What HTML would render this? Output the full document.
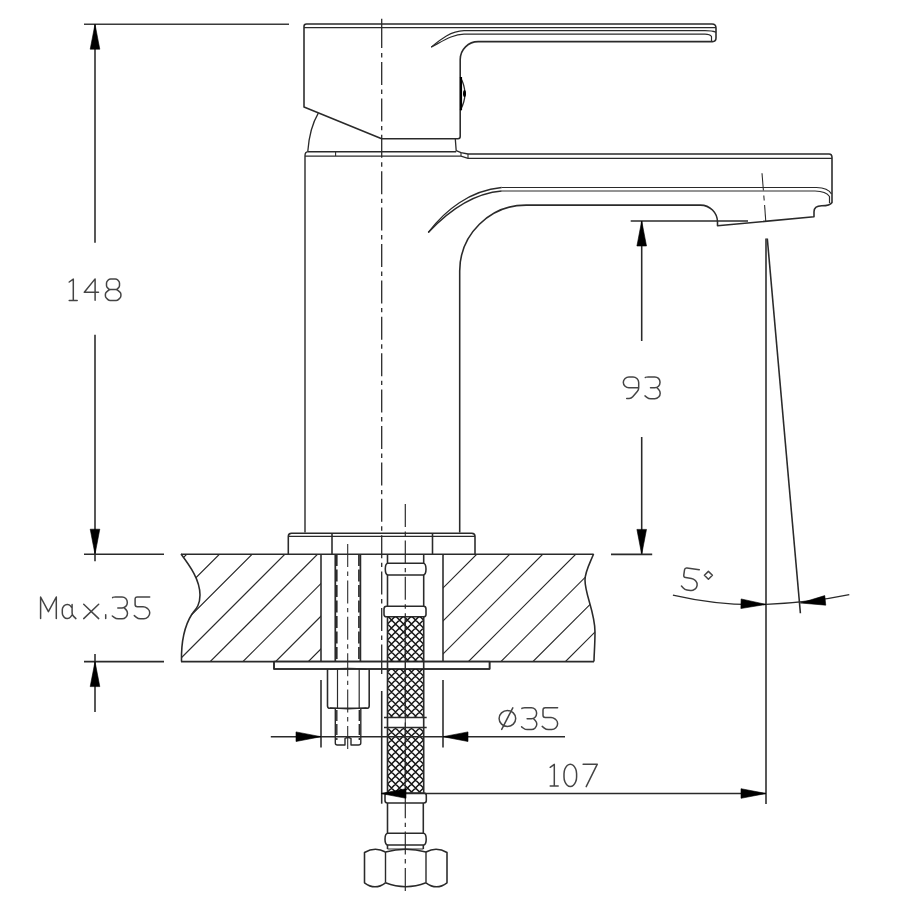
<!DOCTYPE html>
<html><head><meta charset="utf-8"><title>Faucet drawing</title><style>html,body{margin:0;padding:0;background:#fff;width:900px;height:900px;overflow:hidden;}svg{display:block;font-family:"Liberation Sans",sans-serif;}</style></head><body>
<svg width="900" height="900" viewBox="0 0 900 900">
<defs>
<clipPath id="cL"><path d="M181,554 C190,566 200,580 200,595 C200,606 195,610 192,614 C185,625 181,640 181.5,661.5 L321,661.5 L321,554 Z"/></clipPath>
<clipPath id="cR"><path d="M443,554 L593.6,554 C589,565 585,572 585,580 C585,595 595,612 595,632 C595,645 594,655 594,661.5 L443,661.5 Z"/></clipPath>
<clipPath id="cM"><rect x="387.5" y="616.8" width="36.2" height="44.8"/><rect x="387.5" y="669" width="36.2" height="48.5"/><rect x="387.5" y="727.5" width="36.2" height="65.3"/></clipPath>
</defs>
<g>
<rect width="900" height="900" fill="#fff"/>
<g fill="none" stroke="#2a2a2a" stroke-width="1.566" stroke-linecap="butt" stroke-linejoin="round">
<line x1="84" y1="24.2" x2="289" y2="24.2" stroke-width="1.51" stroke="#3a3a3a" />
<line x1="95" y1="24.2" x2="95" y2="242.7" />
<line x1="95" y1="334.7" x2="95" y2="561.3" />
<polygon points="95.00,24.20 90.20,49.20 99.80,49.20" fill="#000" stroke="#000" stroke-width="0.6"/>
<polygon points="95.00,554.20 90.20,529.20 99.80,529.20" fill="#000" stroke="#000" stroke-width="0.6"/>
<line x1="84" y1="554.2" x2="164" y2="554.2" />
<line x1="84" y1="661.6" x2="164" y2="661.6" />
<line x1="95" y1="654" x2="95" y2="712" />
<polygon points="95.00,661.60 90.20,686.60 99.80,686.60" fill="#000" stroke="#000" stroke-width="0.6"/>
<path d="M304,107 L304,26.5 Q304,24 306.5,24 L712,24 Q716,24 716,28 L716,38 Q716,41.6 712.5,41.6 L478.3,41.6 A18,18 0 0 0 460.2,59.6 L460.2,136.5 Q460.2,138.7 458,138.7 L381.7,138.7 Z" fill="none" />
<line x1="304" y1="27.6" x2="716" y2="27.6" stroke-width="1.19" />
<path d="M431.2,47.1 C441,39 451,31 464,30.7 L705,30.7 Q712,30.7 716,32.2" fill="none" stroke-width="1.19" />
<path d="M431.2,47.1 C443,41 453,34.2 464,34.1 L705,34.1 Q710,34.2 711.5,36.5 L711.5,41.6" fill="none" stroke-width="1.19" />
<path d="M460.3,77 Q469.5,93.6 460.3,110.3" fill="none" stroke-width="1.30" />
<line x1="461" y1="77" x2="461" y2="110.3" stroke-width="2.16" stroke="#000" />
<ellipse cx="464.5" cy="93.5" rx="1.5" ry="3.6" fill="#000" stroke="none"/>
<path d="M318.3,113.1 Q309.5,128 307.8,151.3" fill="none" stroke-width="1.30" />
<path d="M455.3,138.9 L456.2,150.6 L461,152.6 L468,154" fill="none" stroke-width="1.30" />
<path d="M305,532.5 L305,155.8 Q305,151.8 308,151.6 L456.2,151.8" fill="none" stroke-width="1.40" />
<line x1="305" y1="156.1" x2="461" y2="156.1" stroke-width="1.30" />
<line x1="461" y1="156.1" x2="468" y2="158.4" stroke-width="1.30" />
<line x1="335.6" y1="151.6" x2="335.6" y2="156.1" stroke-width="1.08" />
<line x1="461" y1="152.6" x2="461" y2="156.1" stroke-width="1.08" />
<line x1="468" y1="154" x2="468" y2="158.4" stroke-width="1.08" />
<path d="M468,154 L829,154 Q832,154 832,157.5 L832,202.5 Q830,205.8 821.7,205.8 Q814,206 814,211.7 L814,216.7 L717.5,225.8 L717.5,222 A17,17 0 0 0 700.5,205.1 L526.7,205.1 A66.5,66 0 0 0 459.7,271 L459.7,532.5" fill="none" />
<line x1="468" y1="158.4" x2="832" y2="158.4" stroke-width="1.30" />
<path d="M501.7,187.5 L816.5,187.5 Q828,187.7 831.5,194" fill="none" stroke-width="1.19" />
<path d="M501.7,191 L815,191 Q826,191.2 829.5,196.5 L829.5,203" fill="none" stroke-width="1.19" />
<path d="M428.3,232.5 C445,210 470,190.5 501.7,187.5" fill="none" stroke-width="1.30" />
<path d="M428.3,232.5 C447,212.5 472,193.5 501.7,191" fill="none" stroke-width="1.30" />
<path d="M288.3,554 L288.3,536.5 Q288.3,533.2 291.5,533.2 L471.8,533.2 Q475,533.2 475,536.5 L475,554" fill="none" />
<line x1="288.3" y1="536.4" x2="475" y2="536.4" stroke-width="1.19" />
<line x1="332" y1="533.2" x2="332" y2="554" />
<line x1="432.5" y1="533.2" x2="432.5" y2="554" />
<line x1="181" y1="554.2" x2="593.6" y2="554.2" />
<line x1="181" y1="661.6" x2="594" y2="661.6" />
<path d="M181,554 C190,566 200,580 200,595 C200,606 195,610 192,614 C185,625 181,640 181.5,661.5" fill="none" />
<path d="M593.6,554 C589,565 585,572 585,580 C585,595 595,612 595,632 C595,645 594,655 594,661.5" fill="none" />
<line x1="321" y1="554" x2="321" y2="661.6" />
<line x1="443" y1="554" x2="443" y2="661.6" />
<path clip-path="url(#cL)" d="M41,700 L241,500 M73.70000000000005,700 L273.70000000000005,500 M106.39999999999998,700 L306.4,500 M139.10000000000002,700 L339.1,500 M171.79999999999995,700 L371.79999999999995,500 M204.5,700 L404.5,500 M237.20000000000005,700 L437.20000000000005,500 M269.9,700 L469.9,500" stroke-width="1.2"/>
<path clip-path="url(#cR)" d="M298,700 L498,500 M331,700 L531,500 M364,700 L564,500 M397,700 L597,500 M430,700 L630,500 M462.5,700 L662.5,500 M494.5,700 L694.5,500 M527,700 L727,500 M559.5,700 L759.5,500" stroke-width="1.2"/>
<rect x="274" y="661.6" width="215.6" height="7.4" fill="#fff"/>
<path d="M274,661.6 L274,669 L489.6,669 L489.6,661.6" fill="none" />
<line x1="335.3" y1="554" x2="335.3" y2="661.6" stroke-width="1.73" />
<line x1="360.4" y1="554" x2="360.4" y2="661.6" stroke-width="1.73" />
<line x1="336.8" y1="554" x2="336.8" y2="661" stroke-width="1.62" stroke-dasharray="12 3.5"/>
<line x1="358.9" y1="554" x2="358.9" y2="661" stroke-width="1.62" stroke-dasharray="12 3.5"/>
<path d="M327.5,669 L327.5,706 Q327.5,708.3 330,708.3 L366.7,708.3 Q369.2,708.3 369.2,706 L369.2,669" fill="none" />
<line x1="337.5" y1="669" x2="337.5" y2="708.3" stroke-width="1.19" />
<line x1="359.2" y1="669" x2="359.2" y2="708.3" stroke-width="1.19" />
<path d="M330,669.5 Q348,667 366.7,669.5" fill="none" stroke-width="1.08" />
<path d="M330,707.8 Q348,710 366.7,707.8" fill="none" stroke-width="1.08" />
<path d="M335.3,708.3 L335.3,743 Q335.3,745 337.3,745 L345,745 L345,738.5 Q348,736.5 351,738.5 L351,745 L358.4,745 Q360.8,745 360.8,743 L360.8,708.3" fill="none" stroke-width="1.40" />
<line x1="336.8" y1="710" x2="336.8" y2="740" stroke-width="1.40" stroke-dasharray="11 3"/>
<line x1="359.3" y1="710" x2="359.3" y2="740" stroke-width="1.40" stroke-dasharray="11 3"/>
<path d="M387.5,554 L387.5,563.2 M423.7,554 L423.7,563.2" fill="none" />
<path d="M388,563.2 L423.2,563.2 Q426,563.2 426,569.1 Q426,575 423.2,575 L388,575 Q385.3,575 385.3,569.1 Q385.3,563.2 388,563.2 Z" fill="none" />
<path d="M387.5,575 L387.5,606.3 M423.7,575 L423.7,606.3" fill="none" />
<path d="M386.5,606.3 L423.5,606.3 Q426,606.3 426,609 L426,614.5 Q426,616.8 423.5,616.8 L386.5,616.8 Q384,616.8 384,614.5 L384,609 Q384,606.3 386.5,606.3 Z" fill="none" />
<path clip-path="url(#cM)" d="M395.5,600 L175.5,820 M403.5,600 L183.5,820 M411.5,600 L191.5,820 M419.5,600 L199.5,820 M427.5,600 L207.5,820 M435.5,600 L215.5,820 M443.5,600 L223.5,820 M451.5,600 L231.5,820 M459.5,600 L239.5,820 M467.5,600 L247.5,820 M475.5,600 L255.5,820 M483.5,600 L263.5,820 M491.5,600 L271.5,820 M499.5,600 L279.5,820 M507.5,600 L287.5,820 M515.5,600 L295.5,820 M523.5,600 L303.5,820 M531.5,600 L311.5,820 M539.5,600 L319.5,820 M547.5,600 L327.5,820 M555.5,600 L335.5,820 M563.5,600 L343.5,820 M571.5,600 L351.5,820 M579.5,600 L359.5,820 M587.5,600 L367.5,820 M595.5,600 L375.5,820 M603.5,600 L383.5,820 M611.5,600 L391.5,820 M619.5,600 L399.5,820 M627.5,600 L407.5,820 M179.5,600 L399.5,820 M187.5,600 L407.5,820 M195.5,600 L415.5,820 M203.5,600 L423.5,820 M211.5,600 L431.5,820 M219.5,600 L439.5,820 M227.5,600 L447.5,820 M235.5,600 L455.5,820 M243.5,600 L463.5,820 M251.5,600 L471.5,820 M259.5,600 L479.5,820 M267.5,600 L487.5,820 M275.5,600 L495.5,820 M283.5,600 L503.5,820 M291.5,600 L511.5,820 M299.5,600 L519.5,820 M307.5,600 L527.5,820 M315.5,600 L535.5,820 M323.5,600 L543.5,820 M331.5,600 L551.5,820 M339.5,600 L559.5,820 M347.5,600 L567.5,820 M355.5,600 L575.5,820 M363.5,600 L583.5,820 M371.5,600 L591.5,820 M379.5,600 L599.5,820 M387.5,600 L607.5,820 M395.5,600 L615.5,820 M403.5,600 L623.5,820 M411.5,600 L631.5,820 M419.5,600 L639.5,820" stroke="#151515" stroke-width="1.5"/>
<line x1="405.3" y1="616.8" x2="405.3" y2="792.8" stroke-width="0.97" />
<line x1="387.5" y1="616.8" x2="387.5" y2="792.8" stroke-width="1.62" />
<line x1="423.7" y1="616.8" x2="423.7" y2="792.8" stroke-width="1.62" />
<line x1="384" y1="717.5" x2="426.7" y2="717.5" stroke-width="1.30" />
<line x1="384" y1="727.5" x2="426.7" y2="727.5" stroke-width="1.30" />
<path d="M387.5,793 L423.8,793 Q426.3,793 426.3,795.5 L426.3,800.5 Q426.3,803 423.8,803 L387.5,803 Q385,803 385,800.5 L385,795.5 Q385,793 387.5,793 Z" fill="none" />
<path d="M387.5,803 L387.5,833.3 M423.3,803 L423.3,833.3" fill="none" />
<path d="M388,833.3 L423.3,833.3 Q426.2,833.3 426.2,839.2 Q426.2,845 423.3,845 L388,845 Q385,845 385,839.2 Q385,833.3 388,833.3 Z" fill="none" />
<path d="M387.5,845 L387.5,849 M423.3,845 L423.3,849" fill="none" />
<line x1="387.5" y1="849" x2="423.3" y2="849" stroke-width="1.19" />
<path d="M385.5,852 Q375,846.4 364.5,852.5 L364.5,882.8 Q375,890.8 385.5,882.8" fill="none" />
<path d="M426,852 Q436.5,846.4 447,852.5 L447,882.8 Q436.5,890.8 426,882.8" fill="none" />
<path d="M385.5,852 Q405.75,846.6 426,852 M385.5,882.8 Q405.75,890.6 426,882.8" fill="none" />
<line x1="385.5" y1="852" x2="385.5" y2="882.8" stroke-width="1.40" />
<line x1="426" y1="852" x2="426" y2="882.8" stroke-width="1.40" />
<line x1="381.7" y1="18.7" x2="381.7" y2="48" stroke-width="1.30" />
<line x1="381.7" y1="674" x2="381.7" y2="644.5" stroke-width="1.30" />
<line x1="381.7" y1="52.4" x2="381.7" y2="644" stroke-width="1.30" stroke-dasharray="23 4.5 4.4 4.5" stroke-dashoffset="26.8"/>
<line x1="347.7" y1="544" x2="347.7" y2="751.7" stroke-width="1.08" stroke-dasharray="23 4.5 4.4 4.5"/>
<line x1="405.3" y1="504" x2="405.3" y2="891.7" stroke-width="1.19" stroke-dasharray="23 4.5 4.4 4.5"/>
<line x1="762" y1="173.3" x2="763.4" y2="190.5" stroke-width="1.08" />
<line x1="763.8" y1="195.5" x2="764.2" y2="200.5" stroke-width="1.08" />
<line x1="764.6" y1="205" x2="765.8" y2="221.7" stroke-width="1.08" />
<line x1="630.7" y1="221" x2="748" y2="221" stroke-width="1.46" />
<line x1="641.7" y1="221" x2="641.7" y2="341" />
<line x1="641.7" y1="437" x2="641.7" y2="554.4" />
<polygon points="641.70,221.00 636.90,246.00 646.50,246.00" fill="#000" stroke="#000" stroke-width="0.6"/>
<polygon points="641.70,554.40 636.90,529.40 646.50,529.40" fill="#000" stroke="#000" stroke-width="0.6"/>
<line x1="611" y1="554.4" x2="652.2" y2="554.4" />
<line x1="766" y1="238.5" x2="766" y2="803.9" />
<line x1="767.3" y1="238.5" x2="800.4" y2="613.3" />
<path d="M672.9,595.1 Q720,606 766,604.4 Q812,602.5 849.3,594.7" fill="none" stroke-width="1.30" />
<polygon points="766.00,604.40 740.88,608.54 741.13,598.95" fill="#000" stroke="#000" stroke-width="0.6"/>
<polygon points="800.40,603.00 824.76,595.61 825.76,605.16" fill="#000" stroke="#000" stroke-width="0.6"/>
<line x1="321" y1="680" x2="321" y2="747.5" />
<line x1="443" y1="680" x2="443" y2="747.5" />
<line x1="270.8" y1="736.7" x2="565" y2="736.7" />
<polygon points="321.00,736.70 296.00,731.90 296.00,741.50" fill="#000" stroke="#000" stroke-width="0.6"/>
<polygon points="443.00,736.70 468.00,731.90 468.00,741.50" fill="#000" stroke="#000" stroke-width="0.6"/>
<line x1="381.7" y1="691" x2="381.7" y2="803.7" />
<line x1="381" y1="793.5" x2="766" y2="793.5" />
<polygon points="381.00,793.50 406.00,788.70 406.00,798.30" fill="#000" stroke="#000" stroke-width="0.6"/>
<polygon points="766.00,793.50 741.00,788.70 741.00,798.30" fill="#000" stroke="#000" stroke-width="0.6"/>
</g>
<g fill="none" stroke="#444" stroke-width="1.5" stroke-linejoin="round" stroke-linecap="round"><path d="M0,3.1 L4.1,0.2 L4.1,21.7 M0,21.7 L8,21.7" transform="translate(69.2,278.9) scale(1.0,1.0)"/><path d="M10.8,21.4 L10.8,0 L0,13.4 L14.2,13.4" transform="translate(84.3,278.9) scale(1.0,1.0)"/><path d="M5.30,0.00 L9.90,0.00 Q11.20,0.00 12.10,0.93 L13.20,2.07 Q14.10,3.00 14.10,4.30 L14.10,6.50 Q14.10,7.80 13.18,8.72 L12.12,9.78 Q11.20,10.70 9.90,10.70 L5.30,10.70 Q4.00,10.70 3.08,9.78 L2.02,8.72 Q1.10,7.80 1.10,6.50 L1.10,4.30 Q1.10,3.00 2.00,2.07 L3.10,0.93 Q4.00,0.00 5.30,0.00 Z M5.30,10.70 L10.20,10.70 Q11.50,10.70 12.50,11.53 L14.50,13.17 Q15.50,14.00 15.50,15.30 L15.50,16.90 Q15.50,18.20 14.57,19.11 L12.93,20.69 Q12.00,21.60 10.70,21.60 L4.80,21.60 Q3.50,21.60 2.57,20.69 L0.93,19.11 Q0.00,18.20 0.00,16.90 L0.00,15.30 Q0.00,14.00 1.00,13.17 L3.00,11.53 Q4.00,10.70 5.30,10.70 Z" transform="translate(105.4,278.9) scale(1.0,1.0)"/></g>
<g fill="none" stroke="#444" stroke-width="1.5" stroke-linejoin="round" stroke-linecap="round"><path d="M15.40,10.90 L5.60,10.90 Q3.40,10.90 1.82,9.37 L1.58,9.13 Q0.00,7.60 0.00,5.45 L0.00,5.45 Q0.00,3.30 1.58,1.77 L1.82,1.53 Q3.40,0.00 5.60,0.00 L9.80,0.00 Q12.00,0.00 13.58,1.53 L13.82,1.77 Q15.40,3.30 15.40,5.50 L15.40,10.80 Q15.40,13.00 13.97,14.67 L9.43,19.93 Q8.00,21.60 5.80,21.60 L3.40,21.60" transform="translate(623.3,376.9) scale(1.0,1.0)"/><path d="M0.30,0.60 L0.65,0.30 Q1.00,0.00 3.20,0.00 L9.80,0.00 Q12.00,0.00 13.50,1.50 L13.50,1.50 Q15.00,3.00 15.00,5.20 L15.00,5.70 Q15.00,7.90 13.50,9.40 L13.50,9.40 Q12.00,10.90 9.80,10.90 L5.50,10.90 M12.00,10.90 L13.67,12.62 Q15.20,14.20 15.20,16.30 L15.20,16.30 Q15.20,18.40 13.69,20.00 L13.51,20.20 Q12.00,21.80 9.80,21.80 L5.80,21.80 Q3.60,21.80 1.86,20.45 L0.00,19.00" transform="translate(645,376.9) scale(1.0,1.0)"/></g>
<g fill="none" stroke="#444" stroke-width="1.5" stroke-linejoin="round" stroke-linecap="round"><path d="M0,21.6 L0,0 L7.8,14.7 L15.7,0 L15.7,21.6" transform="translate(40.6,597) scale(1.0,1.0)"/><path d="M9.80,10.90 L8.14,8.89 Q7.00,7.50 5.20,7.50 L4.80,7.50 Q3.00,7.50 1.81,8.85 L1.19,9.55 Q0.00,10.90 0.00,12.70 L0.00,16.10 Q0.00,17.90 1.13,19.30 L1.87,20.20 Q3.00,21.60 4.80,21.60 L5.20,21.60 Q7.00,21.60 8.09,20.16 L9.80,17.90 M9.80,7.50 L9.80,16.10 Q9.80,17.90 11.09,19.16 L13.60,21.60" transform="translate(62.3,597) scale(1.0,1.0)"/><path d="M0,7.3 L15,21.6 M0,21.6 L15,7.3" transform="translate(83.7,597) scale(1.0,1.0)"/><path d="M0.5,17.8 L0.5,21.6" transform="translate(105.2,597) scale(1.0,1.0)"/><path d="M0.30,0.60 L0.65,0.30 Q1.00,0.00 3.20,0.00 L9.80,0.00 Q12.00,0.00 13.50,1.50 L13.50,1.50 Q15.00,3.00 15.00,5.20 L15.00,5.70 Q15.00,7.90 13.50,9.40 L13.50,9.40 Q12.00,10.90 9.80,10.90 L5.50,10.90 M12.00,10.90 L13.67,12.62 Q15.20,14.20 15.20,16.30 L15.20,16.30 Q15.20,18.40 13.69,20.00 L13.51,20.20 Q12.00,21.80 9.80,21.80 L5.80,21.80 Q3.60,21.80 1.86,20.45 L0.00,19.00" transform="translate(112.3,597) scale(1.0,1.0)"/><path d="M15.40,0.00 L3.00,0.00 Q0.80,0.00 0.80,2.20 L0.80,7.50 Q0.80,9.70 3.00,9.70 L8.80,9.70 Q11.00,9.70 12.68,11.12 L13.72,11.98 Q15.40,13.40 15.40,15.60 L15.40,16.00 Q15.40,18.20 13.84,19.76 L13.36,20.24 Q11.80,21.80 9.60,21.80 L6.00,21.80 Q3.80,21.80 2.12,20.38 L0.00,18.60" transform="translate(134.3,597) scale(1.0,1.0)"/></g>
<g fill="none" stroke="#444" stroke-width="1.5" stroke-linejoin="round" stroke-linecap="round"><path d="M0.30,0.60 L0.65,0.30 Q1.00,0.00 3.20,0.00 L9.80,0.00 Q12.00,0.00 13.50,1.50 L13.50,1.50 Q15.00,3.00 15.00,5.20 L15.00,5.70 Q15.00,7.90 13.50,9.40 L13.50,9.40 Q12.00,10.90 9.80,10.90 L5.50,10.90 M12.00,10.90 L13.67,12.62 Q15.20,14.20 15.20,16.30 L15.20,16.30 Q15.20,18.40 13.69,20.00 L13.51,20.20 Q12.00,21.80 9.80,21.80 L5.80,21.80 Q3.60,21.80 1.86,20.45 L0.00,19.00" transform="translate(521.6,707.8) scale(1.0,1.0)"/><path d="M15.40,0.00 L3.00,0.00 Q0.80,0.00 0.80,2.20 L0.80,7.50 Q0.80,9.70 3.00,9.70 L8.80,9.70 Q11.00,9.70 12.68,11.12 L13.72,11.98 Q15.40,13.40 15.40,15.60 L15.40,16.00 Q15.40,18.20 13.84,19.76 L13.36,20.24 Q11.80,21.80 9.60,21.80 L6.00,21.80 Q3.80,21.80 2.12,20.38 L0.00,18.60" transform="translate(542.2,707.8) scale(1.0,1.0)"/></g>
<g fill="none" stroke="#444" stroke-width="1.5" stroke-linejoin="round" stroke-linecap="round"><path d="M0,3.1 L4.1,0.2 L4.1,21.7 M0,21.7 L8,21.7" transform="translate(550.2,764.2) scale(1.0,1.0)"/><path d="M0.90,4.80 L0.90,4.80 Q1.80,2.60 3.20,1.30 L3.20,1.30 Q4.60,0.00 6.30,0.00 L6.30,0.00 Q8.00,0.00 9.40,1.30 L9.40,1.30 Q10.80,2.60 11.70,4.80 L11.70,4.80 Q12.60,7.00 12.60,9.60 L12.60,12.80 Q12.60,15.40 11.70,17.60 L11.70,17.60 Q10.80,19.80 9.40,21.10 L9.40,21.10 Q8.00,22.40 6.30,22.40 L6.30,22.40 Q4.60,22.40 3.20,21.10 L3.20,21.10 Q1.80,19.80 0.90,17.60 L0.90,17.60 Q0.00,15.40 0.00,12.80 L0.00,9.60 Q0.00,7.00 0.90,4.80 Z" transform="translate(564,764.2) scale(1.0,1.0)"/><path d="M0,0 L14.2,0 L3.1,22.4" transform="translate(583.1,764.2) scale(1.0,1.0)"/></g>
<g fill="none" stroke="#444" stroke-width="1.5" stroke-linejoin="round" stroke-linecap="round" transform="rotate(8,690,579)"><path d="M15.40,0.00 L3.00,0.00 Q0.80,0.00 0.80,2.20 L0.80,7.50 Q0.80,9.70 3.00,9.70 L8.80,9.70 Q11.00,9.70 12.68,11.12 L13.72,11.98 Q15.40,13.40 15.40,15.60 L15.40,16.00 Q15.40,18.20 13.84,19.76 L13.36,20.24 Q11.80,21.80 9.60,21.80 L6.00,21.80 Q3.80,21.80 2.12,20.38 L0.00,18.60" transform="translate(682.5,568.5) scale(1.0,1.0)"/></g>
<g fill="none" stroke="#444" stroke-width="1.5" stroke-linecap="round" stroke-linejoin="round"><ellipse cx="507.4" cy="718.5" rx="8.3" ry="7.9"/><path d="M501.7,729.4 L512.8,707.8"/><path d="M708.4,571.4 L712.4,575.3 L708.4,579.2 L704.4,575.3 Z"/></g>
</g>
</svg>
</body></html>
